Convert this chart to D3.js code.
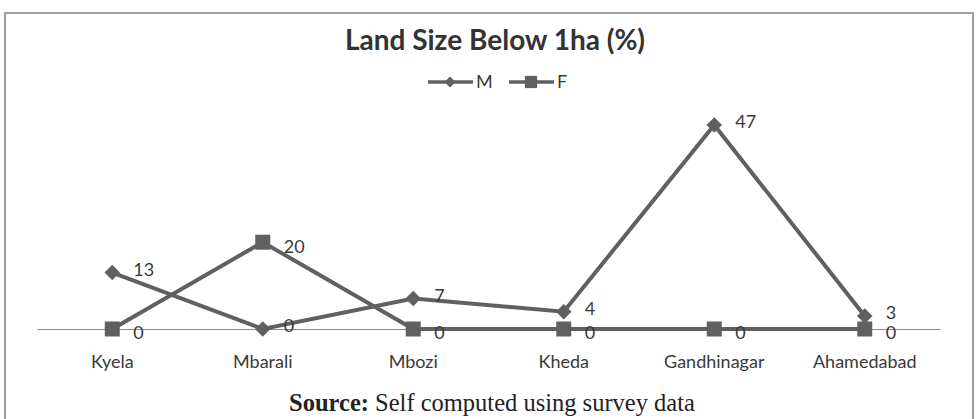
<!DOCTYPE html>
<html lang="en">
<head>
  <meta charset="UTF-8">
  <script src="https://cdn.jsdelivr.net/npm/d3@7/dist/d3.min.js"></script>
  <title>Land Size Below 1ha (%)</title>
  <style>
    body { margin: 0; background: #fff; }
  </style>
</head>
<body>
  <svg width="979" height="419"></svg>

  <script>
    // data
    var districts = ["Kyela", "Mbarali", "Mbozi", "Kheda", "Gandhinagar", "Ahamedabad"]
    var maleValues = [13, 0, 7, 4, 47, 3]
    var femaleValues = [0, 20, 0, 0, 0, 0]
    var seriesNames = ["M", "F"]

    var svg = d3.select("svg")
    var lineColor = "#606060"
    var textColor = "#3a3a3a"
    var sans = "Lato, 'Open Sans', sans-serif"

    // outer frame (bottom edge falls outside the picture)
    svg.append("rect")
      .attr("x", 5).attr("y", 13)
      .attr("width", 968).attr("height", 420)
      .attr("fill", "none")
      .attr("stroke", "#a0a0a0")
      .attr("stroke-width", 2)

    // scales
    var x = d3.scaleBand()
      .domain(districts)
      .range([37, 940])
    var y = d3.scaleLinear()
      .domain([0, 50])
      .range([329, 112])

    var cx = function(d, i){ return x(districts[i]) + x.bandwidth() / 2 }

    // title
    svg.append("text")
      .attr("x", 495).attr("y", 50)
      .attr("text-anchor", "middle")
      .attr("font-family", sans)
      .attr("font-weight", "bold")
      .attr("font-size", 28)
      .attr("fill", "#333")
      .text("Land Size Below 1ha (%)")

    // x axis
    var xAxis = svg.append("g")
      .attr("transform", "translate(0," + y(0) + ")")
      .call(d3.axisBottom(x).tickSize(0).tickPadding(33))
    xAxis.select(".domain").attr("stroke", "#8a8a8a").attr("stroke-width", 1)
    xAxis.selectAll("text")
      .attr("dy", "0.32em")
      .attr("font-family", sans)
      .attr("font-size", 18)
      .attr("fill", textColor)

    var line = d3.line()
      .x(cx)
      .y(function(d){ return y(d) })

    // series lines
    ;[maleValues, femaleValues].forEach(function(vals){
      svg.append("path")
        .datum(vals)
        .attr("d", line)
        .attr("fill", "none")
        .attr("stroke", lineColor)
        .attr("stroke-width", 4)
    })

    var diamond = d3.symbol().type(d3.symbolSquare).size(120)
    var square = d3.symbol().type(d3.symbolSquare).size(225)

    svg.append("g").selectAll("path")
      .data(maleValues)
      .enter().append("path")
      .attr("d", diamond)
      .attr("fill", lineColor)
      .attr("transform", function(d, i){ return "translate(" + cx(d, i) + "," + y(d) + ") rotate(45)" })

    svg.append("g").selectAll("path")
      .data(femaleValues)
      .enter().append("path")
      .attr("d", square)
      .attr("fill", lineColor)
      .attr("transform", function(d, i){ return "translate(" + cx(d, i) + "," + y(d) + ")" })

    // data labels
    function labels(values, dy) {
      svg.append("g").selectAll("text")
        .data(values)
        .enter().append("text")
        .attr("x", function(d, i){ return cx(d, i) + 21 })
        .attr("y", function(d){ return y(d) + dy })
        .attr("dy", "0.35em")
        .attr("font-family", sans)
        .attr("font-size", 18)
        .attr("fill", textColor)
        .text(function(d){ return d })
    }
    labels(maleValues, -3)
    labels(femaleValues, 4)

    // legend
    var legend = svg.append("g").attr("transform", "translate(428,82)")
    var legendItems = legend.selectAll("g")
      .data(seriesNames)
      .enter().append("g")
      .attr("transform", function(d, i){ return "translate(" + (i * 81) + ",0)" })
    legendItems.append("line")
      .attr("x1", 0).attr("x2", 45)
      .attr("stroke", lineColor)
      .attr("stroke-width", 3.5)
    legendItems.append("path")
      .attr("d", function(d, i){
        return d3.symbol().type(d3.symbolSquare).size(i === 0 ? 60 : 150)()
      })
      .attr("fill", lineColor)
      .attr("transform", function(d, i){ return "translate(22,0)" + (i === 0 ? " rotate(45)" : "") })
    legendItems.append("text")
      .attr("x", 48)
      .attr("dy", "0.35em")
      .attr("font-family", sans)
      .attr("font-size", 18)
      .attr("fill", textColor)
      .text(function(d){ return d })

    // source note
    var src = svg.append("text")
      .attr("x", 492).attr("y", 411)
      .attr("text-anchor", "middle")
      .attr("font-family", "'Liberation Serif', 'DejaVu Serif', serif")
      .attr("font-size", 24.5)
      .attr("fill", "#222")
    src.append("tspan").attr("font-weight", "bold").text("Source:")
    src.append("tspan").text(" Self computed using survey data")
  </script>
</body>
</html>
